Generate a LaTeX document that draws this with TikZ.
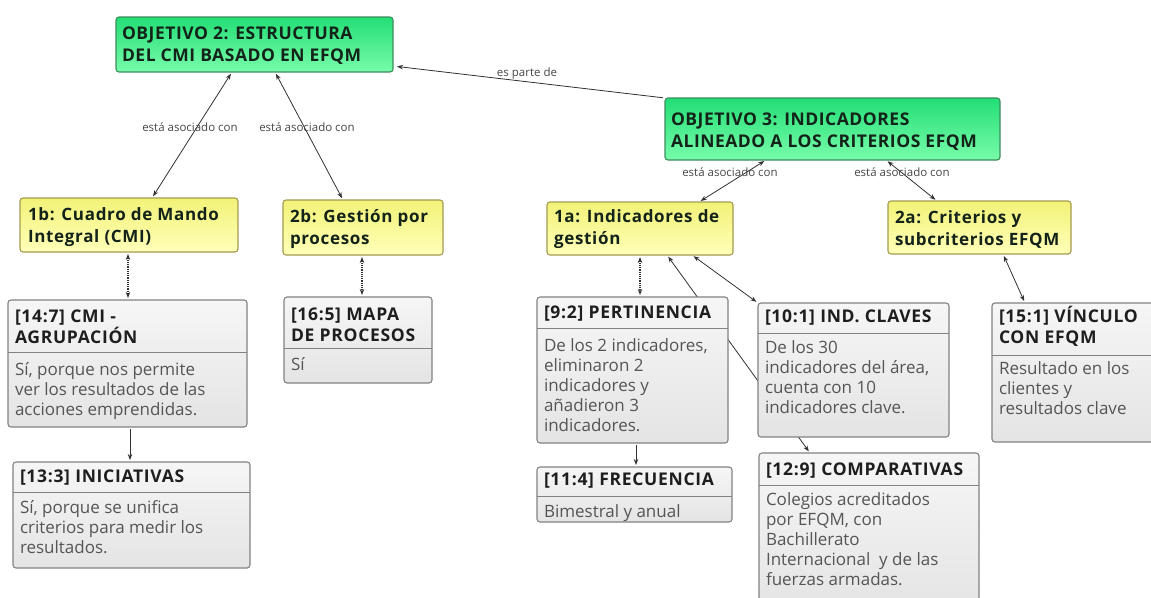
\documentclass[tikz,border=0pt]{standalone}
\usepackage{fontspec}
\setmainfont{Open Sans}
\newfontfamily\ttlfont{Open Sans}[LetterSpace=3]
\newfontfamily\hdrfont{Open Sans}[LetterSpace=4]
\usetikzlibrary{arrows.meta,fit}
\definecolor{boxgray}{RGB}{130,130,130}
\definecolor{gtop}{RGB}{246,246,246}
\definecolor{gbot}{RGB}{228,228,228}
\definecolor{yelline}{RGB}{165,155,80}
\definecolor{ytop}{RGB}{242,242,120}
\definecolor{ybot}{RGB}{255,255,185}
\definecolor{grline}{RGB}{60,140,90}
\definecolor{grtop}{RGB}{35,222,118}
\definecolor{grbot}{RGB}{120,252,170}
\definecolor{ttext}{RGB}{20,35,25}
\definecolor{htext}{RGB}{30,30,30}
\definecolor{btext}{RGB}{85,85,85}
\definecolor{ltext}{RGB}{70,70,70}
\definecolor{contc}{RGB}{50,50,50}
\newcommand\fs{\rule{0pt}{17pt}}
\pgfdeclarelayer{bg}
\pgfdeclarelayer{conn}
\pgfsetlayers{bg,conn,main}
\begin{document}
\begin{tikzpicture}[x=1pt,y=-1pt,
  every node/.style={inner sep=0pt,outer sep=0pt},
  >={Stealth[length=6pt,width=4.5pt]},
  box/.style={rounded corners=3pt,line width=1.1pt,inner sep=0pt},
  gbox/.style={box,draw=boxgray,top color=gtop,bottom color=gbot},
  ybox/.style={box,draw=yelline,top color=ytop,bottom color=ybot},
  grbox/.style={box,draw=grline,top color=grtop,bottom color=grbot},
  ttl/.style={anchor=north west,align=left,font=\ttlfont\fontsize{17.5}{22}\selectfont\bfseries,text=ttext},
  ytx/.style={anchor=north west,align=left,font=\hdrfont\fontsize{17}{22}\selectfont\bfseries,text=ttext},
  hdr/.style={anchor=north west,align=left,font=\hdrfont\fontsize{17.5}{21}\selectfont\bfseries,text=htext},
  bdy/.style={anchor=north west,align=left,font=\fontsize{17}{20}\selectfont,text=btext},
  lbl/.style={font=\fontsize{11.5}{13}\selectfont,text=ltext},
  con/.style={draw=contc,line width=0.8pt,shorten >=2pt,shorten <=2pt},
  dcon/.style={con,line width=1.2pt,densely dotted},
  dv/.style={draw=boxgray,line width=0.9pt}
]
\useasboundingbox (0,0) rectangle (1151,597);
\begin{pgfonlayer}{bg}
\fill[white] (0,0) rectangle (1151,597);
\end{pgfonlayer}

% ---------- boxes
\node[grbox,fit={(116,17)(393,72)}] (obj2) {};
\node[grbox,fit={(665,98)(1000,160)}] (obj3) {};
\node[ybox,fit={(20,198)(238,252)}] (b1) {};
\node[ybox,fit={(283,200)(443,255)}] (b2) {};
\node[ybox,fit={(547,202)(733,255)}] (a1) {};
\node[ybox,fit={(888,201)(1071,254)}] (a2) {};
\node[gbox,fit={(8,300)(247,427)}] (g147) {};
\node[gbox,fit={(284,297)(432,383)}] (g165) {};
\node[gbox,fit={(13,462)(250,568)}] (g133) {};
\node[gbox,fit={(537,297)(728,443)}] (g92) {};
\node[gbox,fit={(537,467)(732,522)}] (g114) {};
\node[gbox,fit={(758,303)(949,437)}] (g101) {};
\node[gbox,fit={(759,453)(979,612)}] (g129) {};
\node[gbox,fit={(992,303)(1165,442)}] (g151) {};

% ---------- connectors (behind the boxes)
\begin{pgfonlayer}{conn}
\draw[con,->,shorten >=4pt] (obj3.north west) -- (obj2.east |- 0,66);
\draw[con,<->] (obj2.south -| 232,0) -- (b1.north -| 152,0);
\draw[con,<->] (obj2.south -| 275,0) -- (b2.north -| 343,0);
\draw[con,<->] (obj3.south -| 766,0) -- (a1.north -| 699,0);
\draw[con,<->] (obj3.south -| 886,0) -- (a2.north -| 937,0);
\draw[dcon,<->] (b1.south -| 128,0) -- (g147.north -| 128,0);
\draw[dcon,<->] (b2.south -| 362,0) -- (g165.north -| 362,0);
\draw[con,->] (g147.south -| 130,0) -- (g133.north -| 130,0);
\draw[dcon,<->] (a1.south -| 640,0) -- (g92.north -| 640,0);
\draw[con,<->] (a1.south -| 692,0) -- (g101.north west);
\draw[con,->] (g92.south -| 636,0) -- (g114.north -| 636,0);
\draw[con,<->] (a2.south -| 1003,0) -- (g151.north -| 1025,0);
\draw[con,<->] (a1.south -| 667,0) -- (g129.north -| 810,0);
\end{pgfonlayer}

% ---------- connector labels
\node[lbl] (lp) at (527,74) {es parte de};
\node[lbl] (l1) at (190,127) {está asociado con};
\node[lbl] (l2) at (307,127) {está asociado con};
\node[lbl] (l3) at (730,172) {está asociado con};
\node[lbl] (l4) at (902,172) {está asociado con};

% ---------- texts
\node[ttl] (t2) at (122,22) {\fs OBJETIVO 2: ESTRUCTURA\\DEL CMI BASADO EN EFQM};
\node[ttl] (t3) at (671,108) {\fs OBJETIVO 3: INDICADORES\\ALINEADO A LOS CRITERIOS EFQM};
\node[ytx] (tb1) at (28,203) {\fs 1b: Cuadro de Mando\\Integral (CMI)};
\node[ytx] (tb2) at (290,205) {\fs 2b: Gestión por\\procesos};
\node[ytx] (ta1) at (554,205) {\fs 1a: Indicadores de\\gestión};
\node[ytx] (ta2) at (895,206) {\fs 2a: Criterios y\\subcriterios EFQM};

\node[hdr] (h147) at (15,305) {\fs [14:7] CMI -\\AGRUPACIÓN};
\draw[dv] (g147.west |- 0,352) -- (g147.east |- 0,352);
\node[bdy] (c147) at (15,358) {\fs Sí, porque nos permite\\ver los resultados de las\\acciones emprendidas.};

\node[hdr] (h165) at (291,303) {\fs [16:5] MAPA\\DE PROCESOS};
\draw[dv] (g165.west |- 0,348) -- (g165.east |- 0,348);
\node[bdy] (c165) at (291,353) {\fs Sí};

\node[hdr] (h133) at (20,465) {\fs [13:3] INICIATIVAS};
\draw[dv] (g133.west |- 0,492) -- (g133.east |- 0,492);
\node[bdy] (c133) at (20,496) {\fs Sí, porque se unifica\\criterios para medir los\\resultados.};

\node[hdr] (h92) at (544,301) {\fs [9:2] PERTINENCIA};
\draw[dv] (g92.west |- 0,328) -- (g92.east |- 0,328);
\node[bdy] (c92) at (544,334) {\fs De los 2 indicadores,\\eliminaron 2\\indicadores y\\añadieron 3\\indicadores.};

\node[hdr] (h114) at (544,468) {\fs [11:4] FRECUENCIA};
\draw[dv] (g114.west |- 0,496) -- (g114.east |- 0,496);
\node[bdy] (c114) at (544,500) {\fs Bimestral y anual};

\node[hdr] (h101) at (765,305) {\fs [10:1] IND. CLAVES};
\draw[dv] (g101.west |- 0,333) -- (g101.east |- 0,333);
\node[bdy] (c101) at (765,336) {\fs De los 30\\indicadores del área,\\cuenta con 10\\indicadores clave.};

\node[hdr] (h129) at (766,458) {\fs [12:9] COMPARATIVAS};
\draw[dv] (g129.west |- 0,485) -- (g129.east |- 0,485);
\node[bdy] (c129) at (766,488) {\fs Colegios acreditados\\por EFQM, con\\Bachillerato\\Internacional\ \ y de las\\fuerzas armadas.};

\node[hdr] (h151) at (999,305) {\fs [15:1] VÍNCULO\\CON EFQM};
\draw[dv] (g151.west |- 0,355) -- (g151.east |- 0,355);
\node[bdy] (c151) at (999,357) {\fs Resultado en los\\clientes y\\resultados clave};
\end{tikzpicture}
\end{document}
